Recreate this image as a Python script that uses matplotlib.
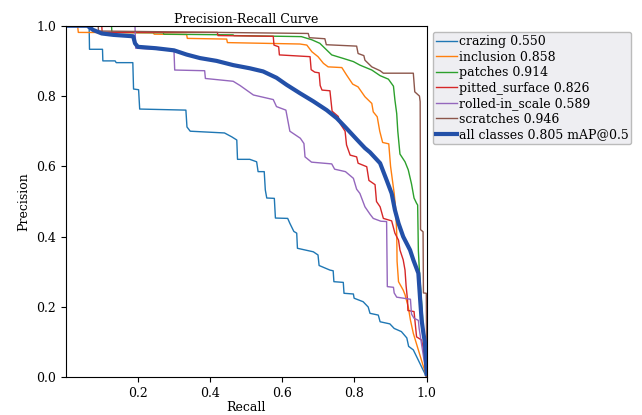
import matplotlib
matplotlib.use("Agg")
import matplotlib.pyplot as plt

plt.rcParams['font.family'] = ['DejaVu Serif']

names = ["crazing", "inclusion", "patches", "pitted_surface", "rolled-in_scale", "scratches"]
ap = [0.550, 0.858, 0.914, 0.826, 0.589, 0.946]
map50 = 0.805

# (recall, precision) points
crazing = [(0, 1), (0.065, 1), (0.066, 0.933), (0.102, 0.933), (0.103, 0.9), (0.137, 0.9),
           (0.14, 0.895), (0.186, 0.895), (0.188, 0.82), (0.202, 0.818), (0.205, 0.763),
           (0.333, 0.76), (0.336, 0.712), (0.345, 0.70), (0.44, 0.695), (0.46, 0.684),
           (0.474, 0.675), (0.476, 0.62), (0.51, 0.62), (0.529, 0.613), (0.533, 0.585),
           (0.55, 0.585), (0.553, 0.533), (0.557, 0.51), (0.578, 0.509), (0.581, 0.453),
           (0.615, 0.452), (0.621, 0.438), (0.632, 0.415), (0.64, 0.41), (0.642, 0.367),
           (0.686, 0.357), (0.699, 0.348), (0.702, 0.318), (0.732, 0.305), (0.741, 0.303),
           (0.743, 0.272), (0.769, 0.27), (0.771, 0.239), (0.797, 0.237), (0.799, 0.225),
           (0.824, 0.215), (0.838, 0.2), (0.843, 0.182), (0.866, 0.177), (0.871, 0.158),
           (0.898, 0.152), (0.91, 0.139), (0.93, 0.13), (0.945, 0.112), (0.95, 0.088),
           (0.963, 0.078), (1.0, 0.0)]
inclusion = [(0, 1), (0.033, 1), (0.035, 0.981), (0.243, 0.98), (0.245, 0.976), (0.335, 0.975),
             (0.337, 0.964), (0.446, 0.962), (0.448, 0.952), (0.649, 0.948), (0.668, 0.945),
             (0.682, 0.926), (0.699, 0.912), (0.714, 0.893), (0.727, 0.883), (0.765, 0.881),
             (0.778, 0.86), (0.795, 0.834), (0.81, 0.826), (0.829, 0.798), (0.848, 0.779),
             (0.852, 0.755), (0.863, 0.741), (0.87, 0.70), (0.878, 0.668), (0.895, 0.664),
             (0.9, 0.6), (0.91, 0.523), (0.914, 0.48), (0.917, 0.41), (0.918, 0.33),
             (0.922, 0.272), (0.935, 0.248), (0.94, 0.235), (0.949, 0.2), (0.955, 0.163),
             (0.963, 0.125), (1.0, 0.0)]
patches = [(0, 1), (0.127, 1), (0.128, 0.981), (0.27, 0.98), (0.272, 0.976), (0.464, 0.974),
           (0.466, 0.972), (0.653, 0.969), (0.682, 0.96), (0.704, 0.95), (0.723, 0.931),
           (0.737, 0.917), (0.769, 0.907), (0.797, 0.898), (0.815, 0.888), (0.848, 0.874),
           (0.871, 0.858), (0.894, 0.848), (0.908, 0.828), (0.912, 0.789), (0.917, 0.75),
           (0.92, 0.70), (0.926, 0.635), (0.94, 0.613), (0.949, 0.59), (0.958, 0.55),
           (0.965, 0.51), (0.972, 0.495), (0.975, 0.49), (0.977, 0.36), (0.98, 0.3), (1.0, 0.0)]
pitted = [(0, 1), (0.1, 1), (0.101, 0.981), (0.42, 0.981), (0.422, 0.972), (0.575, 0.97),
          (0.577, 0.945), (0.59, 0.94), (0.592, 0.917), (0.677, 0.912), (0.68, 0.875),
          (0.69, 0.868), (0.702, 0.866), (0.705, 0.83), (0.71, 0.817), (0.732, 0.815),
          (0.738, 0.757), (0.755, 0.742), (0.76, 0.722), (0.774, 0.7), (0.778, 0.661),
          (0.788, 0.632), (0.806, 0.627), (0.81, 0.609), (0.834, 0.599), (0.84, 0.56),
          (0.857, 0.548), (0.861, 0.5), (0.871, 0.485), (0.88, 0.452), (0.903, 0.445),
          (0.912, 0.41), (0.922, 0.39), (0.926, 0.362), (0.935, 0.334), (0.94, 0.305),
          (0.943, 0.26), (0.947, 0.22), (0.948, 0.19), (0.965, 0.187), (0.972, 0.115),
          (0.986, 0.106), (0.991, 0.078), (1.0, 0.0)]
rolled = [(0, 1), (0.192, 1), (0.194, 0.936), (0.27, 0.932), (0.3, 0.93), (0.302, 0.874),
          (0.385, 0.872), (0.387, 0.85), (0.464, 0.842), (0.483, 0.83), (0.52, 0.803),
          (0.575, 0.79), (0.584, 0.77), (0.61, 0.76), (0.621, 0.70), (0.65, 0.68),
          (0.66, 0.665), (0.663, 0.627), (0.681, 0.612), (0.737, 0.607), (0.745, 0.592),
          (0.775, 0.585), (0.797, 0.566), (0.806, 0.535), (0.815, 0.523), (0.829, 0.485),
          (0.843, 0.464), (0.852, 0.452), (0.873, 0.444), (0.889, 0.443), (0.891, 0.258),
          (0.908, 0.256), (0.91, 0.24), (0.917, 0.228), (0.955, 0.222), (0.958, 0.18),
          (0.965, 0.168), (0.977, 0.162), (0.979, 0.14), (1.0, 0.0)]
scratches = [(0, 1), (0.09, 1), (0.091, 0.985), (0.672, 0.978), (0.675, 0.966), (0.718, 0.963),
             (0.722, 0.946), (0.806, 0.942), (0.81, 0.921), (0.826, 0.915), (0.829, 0.902),
             (0.848, 0.883), (0.871, 0.872), (0.88, 0.865), (0.963, 0.865), (0.967, 0.812),
             (0.98, 0.8), (0.982, 0.784), (0.983, 0.42), (0.99, 0.414), (0.991, 0.24),
             (0.999, 0.239), (1.0, 0.0)]
all_classes = [(0, 1), (0.06, 1), (0.076, 0.988), (0.1, 0.978), (0.132, 0.974), (0.187, 0.97),
               (0.192, 0.95), (0.2, 0.94), (0.25, 0.936), (0.3, 0.93), (0.335, 0.918),
               (0.372, 0.908), (0.418, 0.9), (0.464, 0.888), (0.51, 0.879), (0.547, 0.87),
               (0.584, 0.852), (0.612, 0.832), (0.649, 0.808), (0.686, 0.785), (0.723, 0.76),
               (0.751, 0.737), (0.778, 0.708), (0.806, 0.677), (0.829, 0.652), (0.843, 0.64),
               (0.871, 0.609), (0.889, 0.561), (0.903, 0.523), (0.912, 0.476), (0.922, 0.438),
               (0.935, 0.4), (0.954, 0.362), (0.963, 0.334), (0.977, 0.296), (0.982, 0.22),
               (0.986, 0.163), (0.991, 0.125), (0.995, 0.1), (1.0, 0.01)]

curves = [crazing, inclusion, patches, pitted, rolled, scratches]
colors = ["tab:blue", "tab:orange", "tab:green", "tab:red", "tab:purple", "tab:brown"]

fig = plt.figure(figsize=(6.42, 4.15), dpi=100)
ax = fig.add_axes([0.1023, 0.0908, 0.5623, 0.8472])

for pts, name, a, c in zip(curves, names, ap, colors):
    r, p = zip(*pts)
    ax.plot(r, p, linewidth=1, color=c, label=f"{name} {a:.3f}")

r, p = zip(*all_classes)
ax.plot(r, p, linewidth=3, color="#2350a8", label=f"all classes {map50:.3f} mAP@0.5")

fs = 9
ax.set_xlim(0, 1)
ax.set_ylim(0, 1)
ax.set_xticks([0.2, 0.4, 0.6, 0.8, 1.0])
ax.tick_params(labelsize=fs)
ax.set_xlabel("Recall", fontsize=fs, labelpad=1)
ax.set_ylabel("Precision", fontsize=fs)
ax.set_title("Precision-Recall Curve", fontsize=fs, pad=2)
ax.legend(loc="upper left", bbox_to_anchor=(1.0, 1.0), fontsize=fs, labelspacing=0.2,
          borderpad=0.25, handlelength=1.7, handletextpad=0.1, borderaxespad=0.5,
          facecolor="#eeeef2", framealpha=1.0, edgecolor="#bbbbbb")

fig.savefig("out.png", dpi=100)
